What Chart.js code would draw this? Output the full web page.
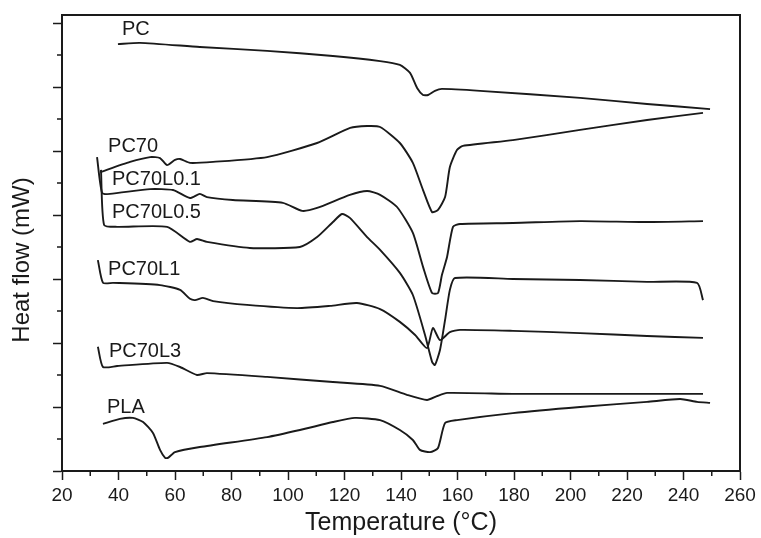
<!DOCTYPE html>
<html>
<head>
<meta charset="utf-8">
<script src="https://cdn.jsdelivr.net/npm/chart.js@4.4.1/dist/chart.umd.min.js"></script>
<style>
  html, body { margin: 0; padding: 0; background: #fff; }
</style>
</head>
<body>
<canvas id="dsc" width="761" height="538"></canvas>
<script>
// DSC heating traces. Heat flow is in arbitrary (offset) units.
const tPC = [39.8, 47.6, 68.8, 92.6, 115.9, 132.6, 139.6, 143.2, 145.7, 147.8, 149.6, 152.0, 154.5, 168.0, 203.4, 227.1, 249.4];
const hPC = [13.34, 13.38, 13.25, 13.13, 12.97, 12.81, 12.69, 12.44, 11.97, 11.75, 11.75, 11.88, 11.94, 11.88, 11.66, 11.47, 11.31];

const tPC70 = [33.5, 44.1, 51.2, 54.7, 57.2, 60.0, 61.8, 65.3, 73.5, 92.6, 110.3, 122.0, 128.0, 132.6, 139.6, 144.2, 147.8, 151.0, 153.1, 155.6, 157.3, 159.8, 161.9, 179.6, 203.4, 227.1, 246.9];
const hPC70 = [9.34, 9.66, 9.81, 9.78, 9.56, 9.72, 9.75, 9.63, 9.66, 9.81, 10.25, 10.72, 10.78, 10.75, 10.25, 9.63, 8.78, 8.09, 8.16, 8.56, 9.5, 10.03, 10.16, 10.34, 10.66, 10.97, 11.19];

const tL01 = [32.4, 34.2, 37.0, 51.2, 59.3, 65.3, 68.8, 71.3, 80.5, 98.2, 105.0, 110.3, 121.9, 128.0, 132.6, 138.6, 144.2, 147.8, 151.0, 153.1, 154.5, 156.3, 158.4, 160.9, 179.6, 203.4, 227.1, 246.9];
const hL01 = [9.81, 8.69, 8.66, 8.81, 8.78, 8.53, 8.66, 8.56, 8.47, 8.38, 8.13, 8.22, 8.63, 8.75, 8.63, 8.25, 7.44, 6.38, 5.56, 5.56, 6.13, 6.69, 7.63, 7.72, 7.75, 7.81, 7.78, 7.81];

const tL05 = [33.8, 34.9, 39.5, 57.2, 65.3, 67.8, 71.3, 86.5, 104.2, 110.3, 115.9, 119.1, 121.9, 128.0, 132.6, 139.6, 144.2, 148.5, 151.0, 152.0, 153.8, 155.6, 157.3, 159.1, 179.6, 203.4, 227.1, 244.8, 246.9];
const hL05 = [9.41, 7.69, 7.63, 7.63, 7.16, 7.25, 7.16, 6.97, 7.0, 7.31, 7.78, 8.03, 7.91, 7.31, 6.91, 6.19, 5.5, 4.25, 3.41, 3.31, 3.78, 4.72, 5.66, 6.03, 6.0, 5.97, 5.91, 5.88, 5.34];

const tL1 = [32.7, 34.5, 38.1, 54.7, 61.8, 65.3, 67.1, 69.9, 73.5, 85.5, 103.2, 114.9, 124.4, 132.6, 139.6, 145.0, 149.2, 151.3, 153.8, 157.3, 160.9, 179.6, 203.4, 227.1, 246.9];
const hL1 = [6.59, 5.88, 5.88, 5.81, 5.66, 5.38, 5.34, 5.41, 5.31, 5.19, 5.09, 5.16, 5.25, 5.06, 4.66, 4.25, 3.84, 4.47, 4.09, 4.34, 4.41, 4.38, 4.31, 4.22, 4.16];

const tL3 = [32.7, 34.5, 39.5, 57.2, 61.8, 67.8, 71.3, 92.6, 115.9, 132.6, 142.1, 149.2, 152.7, 156.3, 179.6, 203.4, 246.9];
const hL3 = [3.88, 3.25, 3.28, 3.38, 3.25, 3.0, 3.06, 2.94, 2.78, 2.66, 2.38, 2.22, 2.34, 2.44, 2.41, 2.41, 2.41];

const tPLA = [34.5, 40.5, 45.1, 48.7, 52.2, 54.7, 56.5, 57.5, 60.0, 68.8, 92.6, 104.2, 115.9, 123.7, 132.6, 139.6, 144.2, 146.7, 150.3, 153.1, 155.6, 159.8, 179.6, 203.4, 227.1, 238.8, 244.8, 249.4];
const hPLA = [1.47, 1.63, 1.66, 1.53, 1.19, 0.66, 0.41, 0.41, 0.59, 0.75, 1.06, 1.28, 1.53, 1.66, 1.59, 1.28, 0.97, 0.66, 0.59, 0.72, 1.5, 1.59, 1.81, 2.0, 2.16, 2.25, 2.16, 2.13];

const sampleNames = ['PC', 'PC70', 'PC70L0.1', 'PC70L0.5', 'PC70L1', 'PC70L3', 'PLA'];
const temps = [tPC, tPC70, tL01, tL05, tL1, tL3, tPLA];
const flows = [hPC, hPC70, hL01, hL05, hL1, hL3, hPLA];

// where each curve name sits (temperature, heat flow of the text baseline)
const nameAt = [[41.2, 13.62], [36.3, 9.97], [37.7, 8.94], [37.7, 7.91], [36.3, 6.13], [36.6, 3.56], [35.9, 1.81]];

const FONT = 'Arial, "Liberation Sans", Helvetica, sans-serif';
const INK = '#1a1a1a';

const datasets = sampleNames.map((name, i) => ({
    label: name,
    data: temps[i].map((t, j) => ({ x: t, y: flows[i][j] })),
    borderColor: INK,
    borderWidth: 1.9,
    pointRadius: 0,
    tension: 0.2,
    fill: false
}));

// frame, minor ticks, curve names and the y title
const decorations = {
    id: 'decorations',
    afterDraw(chart) {
        const { ctx, chartArea: a, scales: { x, y } } = chart;
        ctx.save();
        ctx.strokeStyle = INK;
        ctx.lineWidth = 2;
        ctx.beginPath();
        ctx.moveTo(a.left, a.top);
        ctx.lineTo(a.right, a.top);
        ctx.lineTo(a.right, a.bottom);
        ctx.stroke();

        ctx.lineWidth = 1.5;
        ctx.beginPath();
        for (let t = 30; t < 260; t += 20) {
            const px = x.getPixelForValue(t);
            ctx.moveTo(px, a.bottom);
            ctx.lineTo(px, a.bottom + 5);
        }
        for (let v = 1; v < 14; v += 2) {
            const py = y.getPixelForValue(v);
            ctx.moveTo(a.left, py);
            ctx.lineTo(a.left - 5, py);
        }
        ctx.stroke();

        ctx.fillStyle = INK;
        ctx.font = '20px ' + FONT;
        ctx.textBaseline = 'alphabetic';
        ctx.textAlign = 'left';
        sampleNames.forEach((name, i) => {
            ctx.fillText(name, x.getPixelForValue(nameAt[i][0]), y.getPixelForValue(nameAt[i][1]));
        });

        ctx.font = '24px ' + FONT;
        ctx.textAlign = 'center';
        ctx.textBaseline = 'middle';
        ctx.translate(22, 260);
        ctx.rotate(-Math.PI / 2);
        ctx.fillText('Heat flow (mW)', 0, 0);
        ctx.restore();
    }
};

new Chart(document.getElementById('dsc'), {
    type: 'line',
    data: { datasets },
    plugins: [decorations],
    options: {
        responsive: false,
        devicePixelRatio: 1,
        animation: false,
        layout: { padding: { top: 15, right: 21, left: 0, bottom: 0 } },
        plugins: { legend: { display: false }, tooltip: { enabled: false } },
        scales: {
            x: {
                type: 'linear',
                min: 20,
                max: 260,
                afterFit: s => { s.height = 67; },
                ticks: { stepSize: 20, padding: 4, color: INK, font: { family: FONT, size: 19 }, maxRotation: 0 },
                grid: { drawOnChartArea: false, drawTicks: true, tickLength: 9, tickWidth: 1.5, tickColor: INK },
                border: { display: true, color: INK, width: 2 },
                title: { display: true, text: 'Temperature (°C)', color: INK, font: { family: FONT, size: 25 }, padding: { top: 0, bottom: 0 } }
            },
            y: {
                type: 'linear',
                min: 0,
                max: 14.25,
                afterFit: s => { s.width = 62; },
                ticks: { stepSize: 2, includeBounds: false, callback: () => '' },
                grid: { drawOnChartArea: false, drawTicks: true, tickLength: 9, tickWidth: 1.5, tickColor: INK },
                border: { display: true, color: INK, width: 2 }
            }
        }
    }
});
</script>
</body>
</html>
